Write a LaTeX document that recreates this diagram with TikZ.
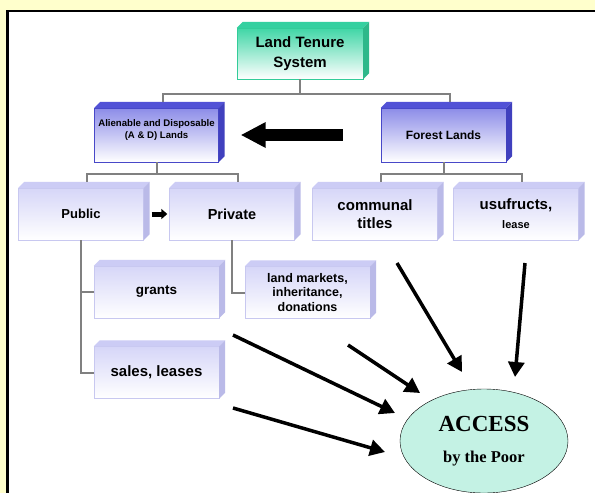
\documentclass[tikz,border=0pt]{standalone}
\usepackage{fontspec}
\setmainfont{Liberation Sans}
\newfontfamily\accessfont{Liberation Serif}
\usepackage{tikz}
\usetikzlibrary{arrows.meta,shapes.geometric,positioning,calc}
\definecolor{bgyellow}{RGB}{255,255,204}
\definecolor{connGrey}{RGB}{128,128,128}
\definecolor{lavFront}{RGB}{214,214,248}
\definecolor{lavBorder}{RGB}{200,200,240}
\definecolor{lavTop}{RGB}{204,204,245}
\definecolor{lavSide}{RGB}{186,186,232}
\definecolor{blueFront}{RGB}{140,140,232}
\definecolor{blueBorder}{RGB}{72,72,200}
\definecolor{blueTop}{RGB}{82,82,214}
\definecolor{blueSide}{RGB}{64,64,190}
\definecolor{tealFront}{RGB}{64,214,166}
\definecolor{tealBorder}{RGB}{51,204,153}
\definecolor{tealTop}{RGB}{52,208,160}
\definecolor{tealSide}{RGB}{45,184,138}
\definecolor{accessFill}{RGB}{196,242,228}
\tikzstyle{lightbox} = [rectangle, draw=lavBorder, top color=lavFront, bottom color=white, minimum width=125pt, minimum height=52pt, align=center, inner sep=2pt]
\tikzstyle{bluebox} = [rectangle, draw=blueBorder, top color=blueFront, bottom color=white, minimum width=125pt, minimum height=54pt, align=center, inner sep=2pt]
\tikzstyle{tealbox} = [rectangle, draw=tealBorder, top color=tealFront, bottom color=white, minimum width=126pt, minimum height=51pt, align=center, inner sep=2pt]
\tikzstyle{conn} = [draw=connGrey, line width=2pt]
\tikzstyle{thickarrow} = [line width=3.5pt, -{Triangle[length=15pt,width=16pt]}]
% top and right faces of a box
\newcommand{\boxfaces}[3]{%
  \fill[#2] (#1.north west) -- ++(6,-6) -- ($(#1.north east)+(6,-6)$) -- (#1.north east) -- cycle;
  \fill[#3] (#1.north east) -- ++(6,-6) -- ($(#1.south east)+(6,-6)$) -- (#1.south east) -- cycle;}
\newcommand{\fsz}[2]{\fontsize{#1}{#2}\selectfont\bfseries}

\begin{document}
\begin{tikzpicture}[x=1pt, y=-1pt]
    \clip (0,0) rectangle (595,493);
    \fill[bgyellow] (0,0) rectangle (595,493);
    \draw[fill=white, line width=2.5pt] (7.5,11) rectangle (610,510);

    % boxes
    \node[tealbox, font=\fsz{15}{20}] (tenure) at (300,53.5) {Land Tenure\\System};
    \node[bluebox, font=\fsz{9.6}{11.5}, minimum width=124pt] (adlands) at (156.5,135) {Alienable and Disposable\\(A \& D) Lands\\\mbox{}};
    \node[bluebox, font=\fsz{12}{14}] (forest) at (443.5,135) {Forest Lands};
    \node[lightbox, font=\fsz{13}{15}] (public) at (81,214) {Public};
    \node[lightbox, font=\fsz{14.5}{17}] (private) at (232,214) {Private};
    \node[lightbox, font=\fsz{15}{18}] (communal) at (375,214) {communal\\titles};
    \node[lightbox, font=\fsz{15}{19}] (usufructs) at (516,214) {usufructs,\\{\fsz{11}{13}lease}};
    \node[lightbox, font=\fsz{13.5}{16}] (grants) at (156.5,292) {grants};
    \node[lightbox, font=\fsz{15}{18}] (sales) at (156.5,372.5) {sales, leases};
    \node[lightbox, font=\fsz{12.5}{14.5}] (landmkt) at (307.5,292.5) {land markets,\\inheritance,\\donations};

    \boxfaces{tenure}{tealTop}{tealSide}
    \boxfaces{adlands}{blueTop}{blueSide}
    \boxfaces{forest}{blueTop}{blueSide}
    \foreach \b in {public,private,communal,usufructs,grants,sales,landmkt}{
        \boxfaces{\b}{lavTop}{lavSide}
    }

    \node[ellipse, draw, thin, fill=accessFill, minimum width=168pt, minimum height=104pt, inner sep=0pt, align=center, font=\accessfont\fontsize{16.5}{31}\selectfont\bfseries] (access) at (484,441)
        {{\fontsize{23}{28}\selectfont ACCESS}\\by the Poor};

    % org chart lines
    \draw[conn] (tenure.south) |- (300,94) -| ($(adlands.north)+(6,-6)$);
    \draw[conn] (300,94) -| ($(forest.north)+(6,-6)$);
    \draw[conn] (adlands.south) |- (157,174) -| ($(public.north)+(6,-6)$);
    \draw[conn] (157,174) -| ($(private.north)+(6,-6)$);
    \draw[conn] (forest.south) |- (444,174) -| ($(communal.north)+(6,-6)$);
    \draw[conn] (444,174) -| ($(usufructs.north)+(6,-6)$);
    \draw[conn] (public.south) |- (grants.west);
    \draw[conn] (public.south) |- (sales.west);
    \draw[conn] (private.south) |- (landmkt.west);

    \draw[line width=12pt, -{Triangle[length=25pt,width=24pt]}, shorten <=38pt, shorten >=22pt] (forest.west) -- (adlands.east);
    \draw[line width=5pt, -{Triangle[length=6pt,width=10pt]}, shorten <=8pt, shorten >=2pt] (public.east) -- (private.west);

    % arrows to access
    \coordinate (g1) at (233,335);
    \coordinate (g2) at (348,345);
    \coordinate (s1) at (233,408);
    \coordinate (c1) at (397,263);
    \coordinate (u1) at (525,263);
    \coordinate (e1) at (395,413);
    \coordinate (e2) at (420,393);
    \coordinate (e3) at (385,452);
    \coordinate (e4) at (462,372);
    \coordinate (e5) at (515,377);
    \draw[thickarrow] (g1) -- (e1);
    \draw[thickarrow] (g2) -- (e2);
    \draw[thickarrow] (s1) -- (e3);
    \draw[thickarrow] (c1) -- (e4);
    \draw[thickarrow] (u1) -- (e5);
\end{tikzpicture}
\end{document}
